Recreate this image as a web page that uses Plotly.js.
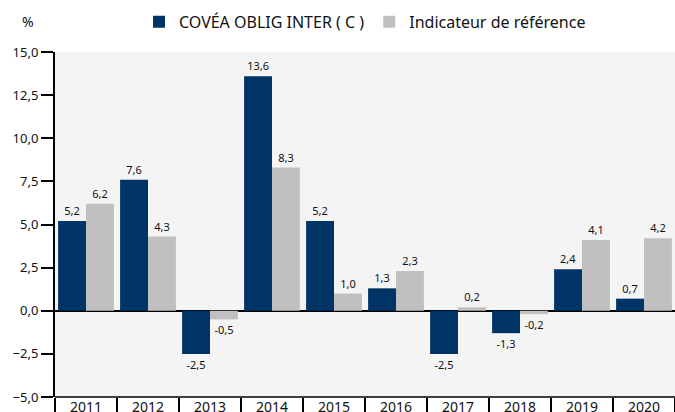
<!DOCTYPE html>
<html><head><meta charset="utf-8">
<script src="https://cdn.plot.ly/plotly-3.0.1.min.js"></script>
<style>html,body{margin:0;padding:0;background:#fff}#chart{width:675px;height:412px}</style>
</head><body><div id="chart"></div>
<script>
const years = ['2011','2012','2013','2014','2015','2016','2017','2018','2019','2020'];
const fundValues = [5.2, 7.6, -2.5, 13.6, 5.2, 1.3, -2.5, -1.3, 2.4, 0.7];
const benchValues = [6.2, 4.3, -0.5, 8.3, 1.0, 2.3, 0.2, -0.2, 4.1, 4.2];
const fundName = 'COVÉA OBLIG INTER ( C )';
const benchName = 'Indicateur de référence';
const yTicks = [-5, -2.5, 0, 2.5, 5, 7.5, 10, 12.5, 15];

const font = 'Noto Sans, Open Sans, sans-serif';
const traces = [
  {type:'bar', name: fundName, x: years, y: fundValues, marker:{color:'#003366'},
   texttemplate:'%{y:.1f}', textposition:'outside', cliponaxis:false,
   textfont:{size:11, color:'#111', family:font}},
  {type:'bar', name: benchName, x: years, y: benchValues, marker:{color:'#c0c0c0'},
   texttemplate:'%{y:.1f}', textposition:'outside', cliponaxis:false,
   textfont:{size:11, color:'#111', family:font}}
];
const layout = {
  width:675, height:412,
  margin:{l:55, r:0, t:52, b:15},
  paper_bgcolor:'#fff', plot_bgcolor:'#f4f4f4',
  separators:', ',
  font:{family:font, color:'#111'},
  barmode:'group', bargap:0.1, bargroupgap:0,
  showlegend:true,
  legend:{orientation:'h', x:0.5, xanchor:'center', y:0.947, yref:'container', yanchor:'middle',
          font:{size:16, family:font}, itemwidth:20, traceorder:'normal'},
  xaxis:{type:'category', tickson:'boundaries', ticks:'outside', ticklen:14, tickwidth:1.5, tickcolor:'#000',
         showgrid:false, showline:false, tickfont:{size:14, family:font}, fixedrange:true},
  yaxis:{range:[-5,15], tickvals:yTicks, tickformat:'.1f', ticks:'outside', ticklen:12, tickwidth:2, tickcolor:'#000',
         showgrid:false, zeroline:true, zerolinecolor:'#000', zerolinewidth:1.5,
         showline:true, linecolor:'#000', linewidth:2, tickfont:{size:13, family:font}},
  shapes:[{type:'line', xref:'paper', yref:'paper', x0:0, x1:1, y0:0, y1:0, line:{color:'#000', width:1.5}}],
  annotations:[{text:'%', xref:'paper', yref:'paper', x:-0.0435, y:1.087, xanchor:'center', yanchor:'middle',
                showarrow:false, font:{size:14, family:font}}]
};
Plotly.newPlot('chart', traces, layout, {displayModeBar:false, staticPlot:true});
</script></body></html>
